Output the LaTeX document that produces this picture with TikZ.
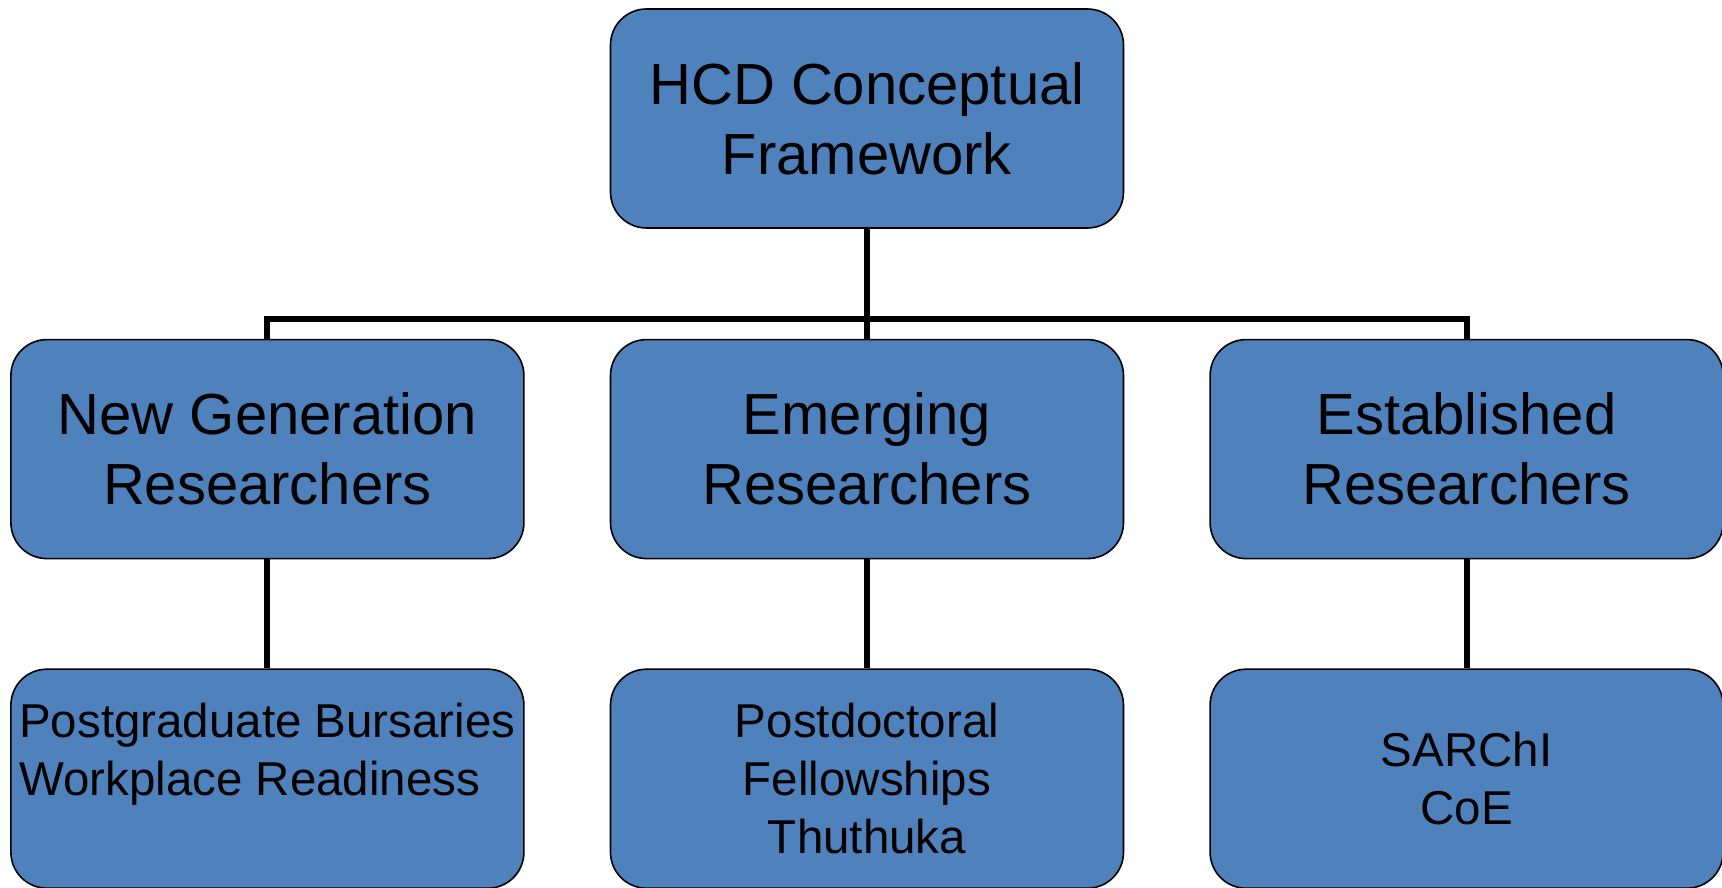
\documentclass[tikz,border=0pt]{standalone}
\usepackage{fontspec}
\setmainfont{Liberation Sans}
\usepackage{tikz}
\usepackage{xcolor}
\definecolor{hcdblue}{RGB}{79,129,189}
\usetikzlibrary{positioning}

\begin{document}
\begin{tikzpicture}[x=1pt,y=1pt,
	node distance=110pt and 86pt,
	box/.style={
		draw=black,           % thin black border
		line width=1.6pt,
		fill=hcdblue,         % office blue fill
		text=black,
		rectangle,
		rounded corners=36pt, % big rounding
		minimum width=513pt,
		minimum height=219pt,
		inner sep=8pt,
		align=center,
		font=\fontsize{58}{70}\selectfont
	},
	smallbox/.style={box, font=\fontsize{47.5}{58}\selectfont},
	link/.style={draw=black, line width=6pt}
	]
	\useasboundingbox (0,0) rectangle (1722,887);

	% top level
	\node[box] (hcd) at (867,768.5) {HCD Conceptual\\Framework};

	% researcher groups
	\node[box, below=of hcd] (emerging) {Emerging\\Researchers};
	\node[box, left=85pt of emerging] (newgen) {New Generation\\Researchers};
	\node[box, right=85pt of emerging] (established) {Established\\Researchers};

	% programmes
	\node[smallbox, below=109pt of newgen, align=left] (bursaries) {Postgraduate Bursaries\\Workplace Readiness\\\mbox{}};
	\node[smallbox, below=109pt of emerging] (postdoc) {Postdoctoral\\Fellowships\\Thuthuka};
	\node[smallbox, below=109pt of established] (sarchi) {SARChI\\CoE};

	% connectors
	\draw[link] (hcd.south) -- (emerging.north);
	\draw[link] (newgen.north) -- ++(0,20) -| (established.north);
	\draw[link] (newgen) -- (bursaries);
	\draw[link] (emerging) -- (postdoc);
	\draw[link] (established) -- (sarchi);
\end{tikzpicture}
\end{document}
